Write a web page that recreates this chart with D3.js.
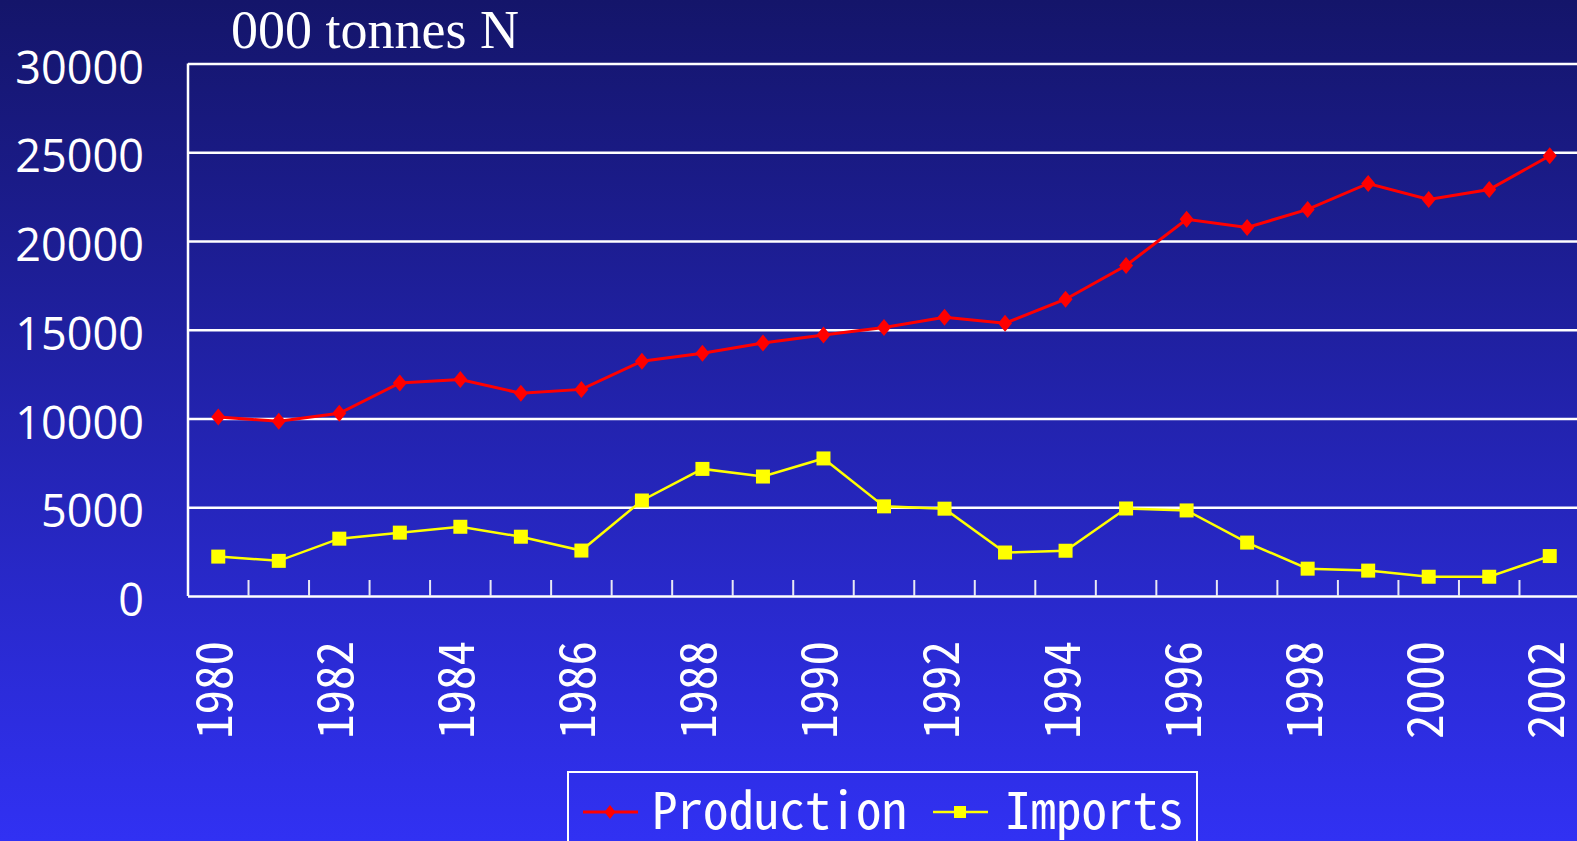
<!DOCTYPE html>
<html>
<head>
<meta charset="utf-8">
<script src="https://cdn.jsdelivr.net/npm/d3@7"></script>
<style>
  html, body { margin: 0; padding: 0; overflow: hidden; }
  body { width: 1577px; height: 841px; }
  .gothic { font-family: 'Noto Sans CJK JP', sans-serif; font-feature-settings: "hwid" 1; }
</style>
</head>
<body>
<div id="c_plot"></div>
<script>
// data, '000 tonnes N
var years = [1980, 1981, 1982, 1983, 1984, 1985, 1986, 1987, 1988, 1989, 1990, 1991,
             1992, 1993, 1994, 1995, 1996, 1997, 1998, 1999, 2000, 2001, 2002];
var production = [10080, 9840, 10290, 12000, 12200, 11420, 11640, 13230, 13680, 14250, 14700, 15130,
                  15710, 15370, 16720, 18620, 21220, 20760, 21780, 23240, 22340, 22900, 24800];
var imports = [2220, 1980, 3230, 3570, 3900, 3340, 2560, 5380, 7160, 6730, 7750, 5050,
               4920, 2450, 2550, 4930, 4820, 3010, 1540, 1430, 1085, 1085, 2250];
var yTicks = [0, 5000, 10000, 15000, 20000, 25000, 30000];
var labelYears = years.filter(d => d % 2 == 0);
var seriesNames = ["Production", "Imports"];

var W = 1577, H = 841;
var margin = {top: 63.5, left: 188, bottom: 596, right: 1580};

var svg = d3.select("#c_plot")
  .append("svg")
  .attr("width", W)
  .attr("height", H);

// background gradient
var grad = svg.append("defs").append("linearGradient")
  .attr("id", "bg").attr("x1", 0).attr("y1", 0).attr("x2", 0).attr("y2", 1);
grad.append("stop").attr("offset", "0%").attr("stop-color", "#14156a");
grad.append("stop").attr("offset", "100%").attr("stop-color", "#3131f3");
svg.append("rect").attr("width", W).attr("height", H).attr("fill", "url(#bg)");

var x = d3.scaleBand().domain(years).range([margin.left, margin.right]).padding(0);
var y = d3.scaleLinear().domain([0, 30000]).range([margin.bottom, margin.top]);
var cx = d => x(d) + x.bandwidth() / 2;

// y axis with gridlines
var yAxis = svg.append("g")
  .attr("transform", "translate(" + margin.left + ",0)")
  .call(d3.axisLeft(y).tickValues(yTicks).tickFormat(d3.format("d"))
        .tickSizeInner(-(margin.right - margin.left)).tickSizeOuter(0).tickPadding(44));
yAxis.select(".domain").remove();
yAxis.selectAll(".tick line").attr("stroke", "#fff").attr("stroke-width", 2.5);
yAxis.selectAll(".tick text")
  .attr("fill", "#fff")
  .attr("dy", 19.5)
  .style("font-family", "'Open Sans', sans-serif")
  .style("font-size", "45px");

// axis line
svg.append("line")
  .attr("x1", margin.left).attr("x2", margin.left)
  .attr("y1", y(30000)).attr("y2", y(0))
  .attr("stroke", "#fff").attr("stroke-width", 2.5);

// x tick marks between categories
svg.append("g").selectAll("line")
  .data(years.slice(1))
  .join("line")
  .attr("x1", d => x(d)).attr("x2", d => x(d))
  .attr("y1", y(0)).attr("y2", y(0) - 16)
  .attr("stroke", "#e8e8f4").attr("stroke-width", 2);

// x labels, rotated
svg.append("g").selectAll("text")
  .data(labelYears)
  .join("text")
  .attr("class", "gothic")
  .attr("transform", d => "translate(" + (cx(d) + 14) + ",641) rotate(-90)")
  .attr("text-anchor", "end")
  .attr("fill", "#fff")
  .style("font-size", "49px")
  .text(d => d);

// title
svg.append("text")
  .attr("x", 231).attr("y", 48)
  .attr("fill", "#fff")
  .style("font-family", "'Liberation Serif', 'Times New Roman', serif")
  .style("font-size", "54px")
  .text("000 tonnes N");

var line = d3.line().x((d, i) => cx(years[i])).y(d => y(d));
var diamond = "M0,-8.5L7,0L0,8.5L-7,0Z";

// production
svg.append("path")
  .attr("d", line(production))
  .attr("fill", "none").attr("stroke", "#ff0000").attr("stroke-width", 3);
svg.append("g").selectAll("path")
  .data(production)
  .join("path")
  .attr("d", diamond)
  .attr("transform", (d, i) => "translate(" + cx(years[i]) + "," + y(d) + ")")
  .attr("fill", "#ff0000");

// imports
svg.append("path")
  .attr("d", line(imports))
  .attr("fill", "none").attr("stroke", "#ffff00").attr("stroke-width", 2.5);
svg.append("g").selectAll("rect")
  .data(imports)
  .join("rect")
  .attr("x", (d, i) => cx(years[i]) - 7)
  .attr("y", d => y(d) - 7)
  .attr("width", 14).attr("height", 14)
  .attr("fill", "#ffff00");

// legend
var legend = svg.append("g");
legend.append("rect")
  .attr("x", 568).attr("y", 772).attr("width", 629).attr("height", 100)
  .attr("fill", "none").attr("stroke", "#fff").attr("stroke-width", 2);

legend.append("line").attr("x1", 583).attr("x2", 638).attr("y1", 812).attr("y2", 812)
  .attr("stroke", "#ff0000").attr("stroke-width", 3);
legend.append("path").attr("d", "M0,-7L5.5,0L0,7L-5.5,0Z")
  .attr("transform", "translate(610,812)").attr("fill", "#ff0000");
legend.append("text")
  .attr("class", "gothic")
  .attr("x", 652).attr("y", 829)
  .attr("fill", "#fff")
  .style("font-size", "51px")
  .text(seriesNames[0]);

legend.append("line").attr("x1", 933).attr("x2", 988).attr("y1", 812).attr("y2", 812)
  .attr("stroke", "#ffff00").attr("stroke-width", 2.5);
legend.append("rect").attr("x", 954).attr("y", 806).attr("width", 12).attr("height", 12)
  .attr("fill", "#ffff00");
legend.append("text")
  .attr("class", "gothic")
  .attr("x", 1005).attr("y", 829)
  .attr("fill", "#fff")
  .style("font-size", "51px")
  .text(seriesNames[1]);
</script>
</body>
</html>
